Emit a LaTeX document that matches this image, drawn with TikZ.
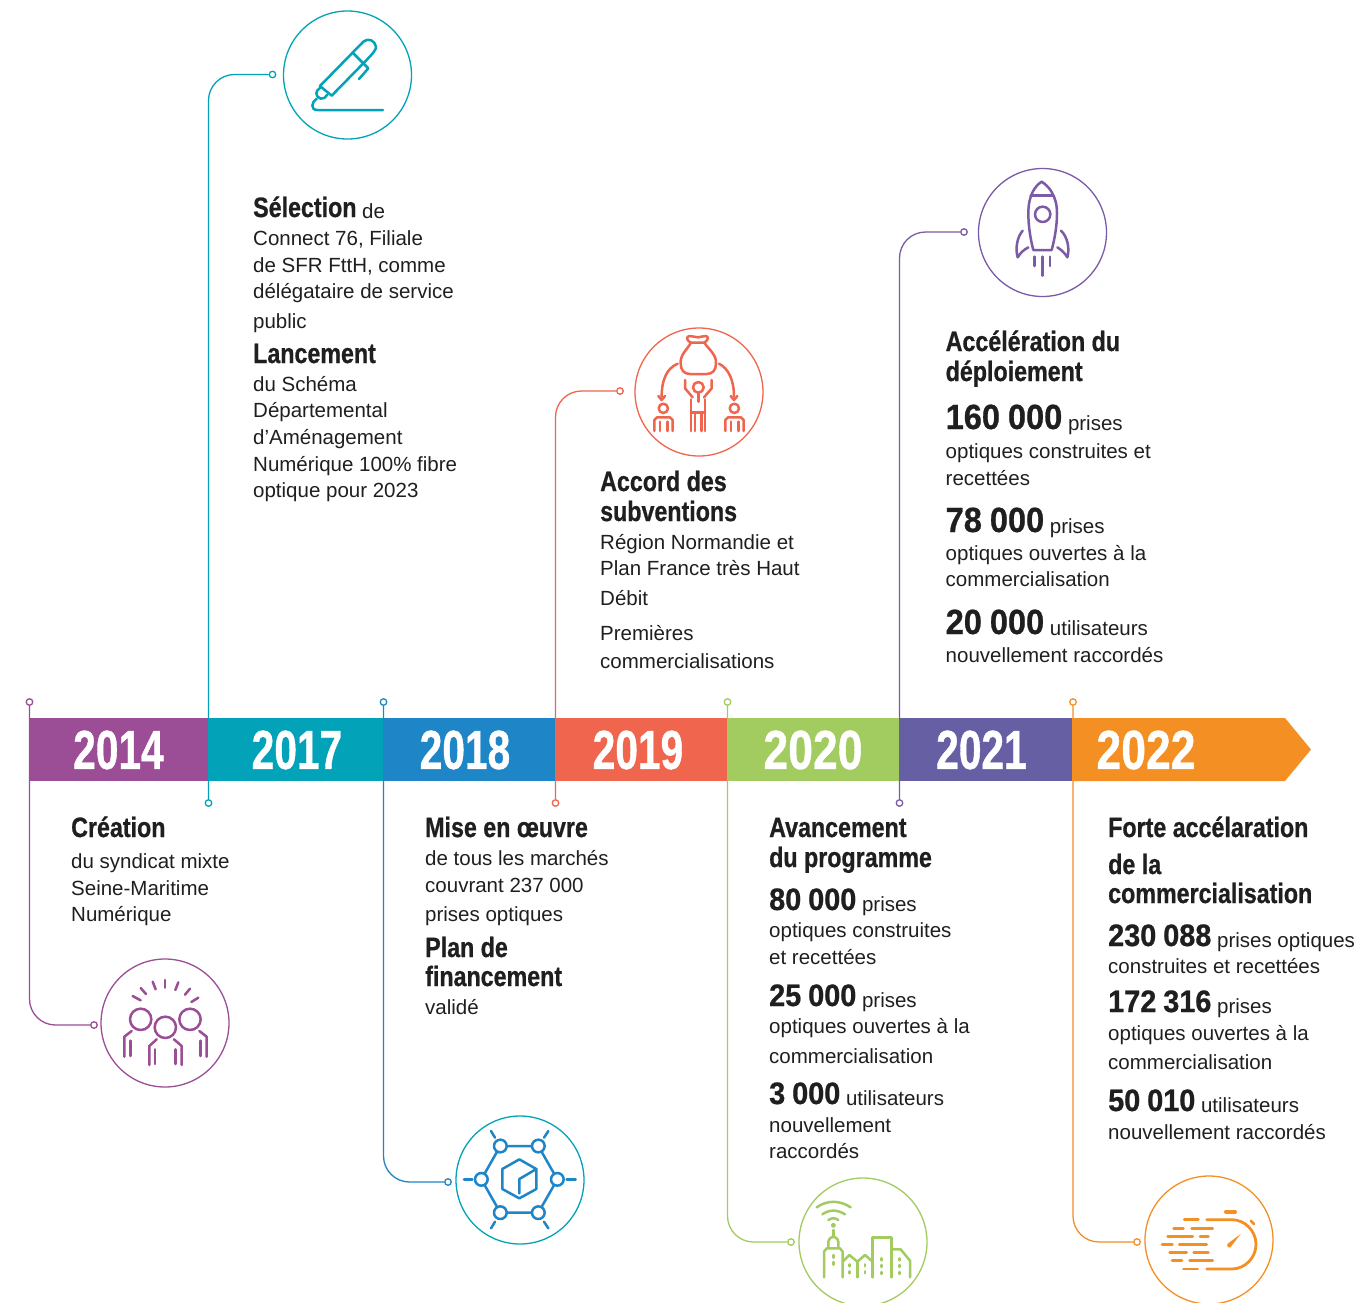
\documentclass[tikz,border=0pt]{standalone}
\usepackage{fontspec}
\setmainfont{Liberation Sans}
\newfontfamily\hdfam[FakeStretch=0.83,FakeBold=0.7]{Liberation Sans Bold}
\newfontfamily\numfam[FakeStretch=0.93,FakeBold=0.7]{Liberation Sans Bold}
\newfontfamily\yrfam[FakeStretch=0.74,FakeBold=0.7]{Liberation Sans Bold}
\newfontfamily\yrwide[FakeStretch=0.81,FakeBold=0.7]{Liberation Sans Bold}
\definecolor{cPurple}{HTML}{9B4D96}
\definecolor{cTeal}{HTML}{02A3B8}
\definecolor{cBlue}{HTML}{1E85C7}
\definecolor{cRed}{HTML}{EF654D}
\definecolor{cGreen}{HTML}{A2CB60}
\definecolor{cViolet}{HTML}{665FA3}
\definecolor{cViolL}{HTML}{7B5AA6}
\definecolor{cOrange}{HTML}{F49023}
\definecolor{cText}{HTML}{1F1F1F}
\tikzset{
  dotnode/.style={circle,draw=#1,fill=white,line width=1.3pt,minimum size=6.5pt,inner sep=0pt},
  ring/.style={circle,draw=#1,line width=1.3pt,minimum size=128pt,inner sep=0pt},
  conn/.style={draw=#1,line width=1.3pt,rounded corners=26pt},
  txt/.style={anchor=base west,inner sep=0pt,text=cText,font=\fontsize{20.5}{24}\selectfont},
  yearlabel/.style={anchor=center,inner sep=0pt,text=white,font=\yrfam\fontsize{55}{60}\selectfont},
  yearwide/.style={anchor=center,inner sep=0pt,text=white,font=\yrwide\fontsize{55}{60}\selectfont},
  icon/.style={draw=#1,line width=2.5pt,line cap=round,line join=round,x=0.33333pt,y=-0.33333pt}
}
\newcommand{\tline}[4]{\node[txt] (#1) at (#2,#3) {#4};}
\newcommand{\headT}[1]{\raisebox{1pt}{\hdfam\fontsize{28}{30}\selectfont #1}}
\newcommand{\numT}[1]{\raisebox{1pt}{\numfam\fontsize{35}{36}\selectfont\spaceskip=8pt #1}}
\newcommand{\numS}[1]{\raisebox{1pt}{\numfam\fontsize{31}{36}\selectfont\spaceskip=7pt #1}}
\begin{document}
\begin{tikzpicture}[x=1pt,y=-1pt]
\useasboundingbox (0,0) rectangle (1354,1302);
\fill[white] (0,0) rectangle (1354,1302);
% dots
\node[dotnode=cPurple] (d14a) at (29.5,702) {};
\node[dotnode=cPurple] (d14b) at (94,1025) {};
\node[dotnode=cTeal] (d17a) at (208.5,803) {};
\node[dotnode=cTeal] (d17b) at (272.5,74.5) {};
\node[dotnode=cBlue] (d18a) at (383.5,702) {};
\node[dotnode=cBlue] (d18b) at (448,1182) {};
\node[dotnode=cRed] (d19a) at (555.5,803) {};
\node[dotnode=cRed] (d19b) at (620,391) {};
\node[dotnode=cGreen] (d20a) at (727.5,702) {};
\node[dotnode=cGreen] (d20b) at (791,1242) {};
\node[dotnode=cViolL] (d21a) at (899.5,803) {};
\node[dotnode=cViolL] (d21b) at (964,232) {};
\node[dotnode=cOrange] (d22a) at (1073,702) {};
\node[dotnode=cOrange] (d22b) at (1137,1242) {};
% connectors
\draw[conn=cPurple] (d14a) -- (d14a |- d14b) -- (d14b);
\draw[conn=cTeal] (d17a) -- (d17a |- d17b) -- (d17b);
\draw[conn=cBlue] (d18a) -- (d18a |- d18b) -- (d18b);
\draw[conn=cRed] (d19a) -- (d19a |- d19b) -- (d19b);
\draw[conn=cGreen] (d20a) -- (d20a |- d20b) -- (d20b);
\draw[conn=cViolL] (d21a) -- (d21a |- d21b) -- (d21b);
\draw[conn=cOrange] (d22a) -- (d22a |- d22b) -- (d22b);
% bar
\fill[cPurple] (29,718) rectangle (208,781);
\fill[cTeal] (208,718) rectangle (383,781);
\fill[cBlue] (383,718) rectangle (555,781);
\fill[cRed] (555,718) rectangle (727,781);
\fill[cGreen] (727,718) rectangle (899,781);
\fill[cViolet] (899,718) rectangle (1072,781);
\fill[cOrange] (1072,718) -- (1285,718) -- (1311,749.5) -- (1285,781) -- (1072,781) -- cycle;
\node[yearlabel] (y14) at (118.5,750) {2014};
\node[yearlabel] (y17) at (297,750) {2017};
\node[yearlabel] (y18) at (465,750) {2018};
\node[yearlabel] (y19) at (638,750) {2019};
\node[yearwide] (y20) at (813,750) {2020};
\node[yearlabel] (y21) at (981.5,750) {2021};
\node[yearwide] (y22) at (1146,750) {2022};
% rings
\node[ring=cPurple] (r14) at (165,1023) {};
\node[ring=cTeal] (r17) at (347.5,75) {};
\node[ring=cTeal] (r18) at (520,1180) {};
\node[ring=cRed] (r19) at (699,392) {};
\node[ring=cGreen] (r20) at (863,1242) {};
\node[ring=cViolL] (r21) at (1042.5,232.5) {};
\node[ring=cOrange] (r22) at (1209,1240) {};
% pen icon
\begin{scope}[shift={(200,0)},icon=cTeal]
\draw (360,258) -- (490,125) .. controls (505,112) and (525,122) .. (528,140) .. controls (528,150) and (522,157) .. (490,190) -- (395,287) -- cycle;
\draw (458,158) -- (505,205) -- (477,237);
\draw (360,264) .. controls (345,272) and (345,290) .. (362,296) .. controls (370,298) and (378,292) .. (382,284);
\draw (350,296) .. controls (335,305) and (330,330) .. (352,330) -- (549,330);
\end{scope}
% bag icon
\begin{scope}[shift={(610,320)},icon=cRed]
\draw (243,68) .. controls (225,58) and (230,48) .. (240,48) .. controls (250,48) and (255,52) .. (264,52) .. controls (272,52) and (280,47) .. (288,48) .. controls (296,50) and (296,60) .. (283,68) -- cycle;
\draw (243,68) .. controls (230,90) and (210,105) .. (212,130) .. controls (212,150) and (222,162) .. (240,162) -- (290,162) .. controls (308,162) and (318,150) .. (318,130) .. controls (320,105) and (298,90) .. (283,68);
\draw (203,131) .. controls (170,145) and (155,180) .. (155,230);
\draw (145,228) -- (155,240) -- (165,228);
\draw (327,131) .. controls (355,145) and (372,180) .. (372,230);
\draw (362,228) -- (372,240) -- (382,228);
\draw (265,202) circle (16);
\draw (225,180) -- (225,205) -- (248,232);
\draw (305,180) -- (305,205) -- (282,232);
\draw (265,220) -- (265,245);
\draw (243,238) -- (243,333);
\draw (285,238) -- (285,333);
\draw (243,278) -- (285,278);
\draw (255,278) -- (255,333);
\draw (275,278) -- (275,333);
\draw (160,265) circle (14);
\draw (133,333) -- (133,300) -- (141,292) -- (180,292) -- (188,300) -- (188,333);
\draw (150,305) -- (150,333);
\draw (172,305) -- (172,333);
\draw (373,265) circle (14);
\draw (346,333) -- (346,300) -- (354,292) -- (393,292) -- (401,300) -- (401,333);
\draw (363,305) -- (363,333);
\draw (385,305) -- (385,333);
\end{scope}
% rocket icon
\begin{scope}[shift={(960,160)},icon=cViolL]
\draw (245,65) .. controls (225,78) and (205,105) .. (205,160) .. controls (205,200) and (212,240) .. (220,270) -- (275,270) .. controls (283,240) and (291,200) .. (291,160) .. controls (291,105) and (265,78) .. (245,65) -- cycle;
\draw (212,106) -- (280,106);
\draw (248,163) circle (23);
\draw (188,212) .. controls (172,230) and (165,265) .. (173,292) .. controls (180,280) and (190,270) .. (205,262);
\draw (303,212) .. controls (322,230) and (330,265) .. (322,292) .. controls (315,280) and (305,270) .. (292,262);
\draw (223,290) -- (223,318);
\draw (247,290) -- (247,347);
\draw (270,290) -- (270,318);
\end{scope}
% people icon
\begin{scope}[shift={(90,950)},icon=cPurple]
\draw (225,90) -- (225,113);
\draw (188,95) -- (197,118);
\draw (152,114) -- (168,132);
\draw (128,138) -- (152,151);
\draw (265,97) -- (256,120);
\draw (300,116) -- (285,134);
\draw (325,143) -- (304,156);
\draw (152,208) circle (32);
\draw (226,232) circle (32);
\draw (300,208) circle (32);
\draw (125,243) -- (103,260) -- (103,320);
\draw (122,272) -- (122,318);
\draw (328,243) -- (350,260) -- (350,320);
\draw (332,272) -- (332,318);
\draw (200,268) -- (178,288) -- (178,345);
\draw (195,298) -- (195,342);
\draw (252,268) -- (275,288) -- (275,345);
\draw (257,298) -- (257,342);
\end{scope}
% network icon
\begin{scope}[shift={(440,1110)},icon=cBlue]
\draw (181,108) -- (295,108) -- (352,208) -- (295,308) -- (181,308) -- (124,208) -- cycle;
\foreach \p in {(181,108),(295,108),(352,208),(295,308),(181,308),(124,208)} {
  \draw[fill=white] \p circle (19);
}
\draw (165,83) -- (153,63);
\draw (312,83) -- (325,63);
\draw (380,208) -- (407,208);
\draw (312,335) -- (325,355);
\draw (165,335) -- (153,355);
\draw (97,208) -- (72,208);
\draw (238,148) -- (289,177) -- (289,237) -- (238,265) -- (187,237) -- (187,177) -- cycle;
\draw (289,177) -- (238,207) -- (238,250);
\end{scope}
% city icon
\begin{scope}[shift={(780,1170)},icon=cGreen]
\draw (110,112) .. controls (140,90) and (180,90) .. (212,112);
\draw (127,133) .. controls (148,118) and (172,118) .. (195,133);
\draw (145,150) .. controls (155,143) and (165,143) .. (175,150);
\draw (160,166) circle (4);
\draw (160,180) -- (160,198);
\draw (145,232) -- (145,215) .. controls (147,205) and (155,200) .. (160,200) .. controls (165,200) and (173,205) .. (175,215) -- (175,232);
\draw (132,322) -- (132,245) -- (140,235) -- (180,235) -- (188,245) -- (188,322);
\draw (160,255) -- (160,263);
\draw (160,276) -- (160,284);
\draw (188,275) -- (208,255) -- (232,275) -- (255,255) -- (278,275);
\draw (232,275) -- (232,322);
\draw (278,322) -- (278,203) -- (335,203) -- (335,322);
\draw (335,238) -- (362,238) -- (390,272) -- (390,322);
\foreach \xx in {209,255} {
  \draw (\xx,283) -- (\xx,289);
  \draw (\xx,304) -- (\xx,310);
}
\foreach \xx in {305,359} {
  \draw (\xx,265) -- (\xx,271);
  \draw (\xx,285) -- (\xx,291);
  \draw (\xx,306) -- (\xx,312);
}
\end{scope}
% stopwatch icon
\begin{scope}[shift={(1130,1170)},icon=cOrange]
\draw[line width=4pt] (288,125) -- (315,125);
\draw (362,152) -- (372,162);
\draw[line width=2.8pt] (230,149) -- (305,149) .. controls (345,149) and (378,183) .. (378,223) .. controls (378,263) and (345,297) .. (305,297) -- (230,297);
\fill[cOrange] (332,192) -- (302,231) .. controls (296,236) and (288,228) .. (293,221) -- cycle;
\foreach \yy/\aa/\ab in {149/163/205,175/131/160,175/185/248,199/113/188,199/210/235,223/96/127,223/148/230,248/119/170,248/191/235,272/126/156,272/179/248,297/160/203} {
  \draw[line width=2.8pt] (\aa,\yy) -- (\ab,\yy);
}
\end{scope}
% texts 2014
\tline{a1}{71}{838}{\headT{Création}}
\tline{a2}{71}{868}{du syndicat mixte}
\tline{a3}{71}{895}{Seine-Maritime}
\tline{a4}{71}{921}{Numérique}
% texts 2017
\tline{b1}{253}{218}{\headT{Sélection} de}
\tline{b2}{253}{245}{Connect 76, Filiale}
\tline{b3}{253}{272}{de SFR FttH, comme}
\tline{b4}{253}{298}{délégataire de service}
\tline{b5}{253}{328}{public}
\tline{b6}{253}{364}{\headT{Lancement}}
\tline{b7}{253}{391}{du Schéma}
\tline{b8}{253}{417}{Départemental}
\tline{b9}{253}{444}{d’Aménagement}
\tline{b10}{253}{471}{Numérique 100\% fibre}
\tline{b11}{253}{497}{optique pour 2023}
% texts 2018
\tline{c1}{425}{838}{\headT{Mise en œuvre}}
\tline{c2}{425}{865}{de tous les marchés}
\tline{c3}{425}{892}{couvrant 237 000}
\tline{c4}{425}{921}{prises optiques}
\tline{c5}{425}{958}{\headT{Plan de}}
\tline{c6}{425}{987}{\headT{financement}}
\tline{c7}{425}{1014}{validé}
% texts 2019
\tline{e1}{600}{492}{\headT{Accord des}}
\tline{e2}{600}{522}{\headT{subventions}}
\tline{e3}{600}{549}{Région Normandie et}
\tline{e4}{600}{575}{Plan France très Haut}
\tline{e5}{600}{605}{Débit}
\tline{e6}{600}{640}{Premières}
\tline{e7}{600}{668}{commercialisations}
% texts 2020
\tline{f1}{769}{838}{\headT{Avancement}}
\tline{f2}{769}{868}{\headT{du programme}}
\tline{f3}{769}{911}{\numS{80 000} prises}
\tline{f4}{769}{937}{optiques construites}
\tline{f5}{769}{964}{et recettées}
\tline{f6}{769}{1007}{\numS{25 000} prises}
\tline{f7}{769}{1033}{optiques ouvertes à la}
\tline{f8}{769}{1063}{commercialisation}
\tline{f9}{769}{1105}{\numS{3 000} utilisateurs}
\tline{f10}{769}{1132}{nouvellement}
\tline{f11}{769}{1158}{raccordés}
% texts 2021
\tline{g1}{945.5}{352}{\headT{Accélération du}}
\tline{g2}{945.5}{382}{\headT{déploiement}}
\tline{g3}{945.5}{430}{\numT{160 000} prises}
\tline{g4}{945.5}{458}{optiques construites et}
\tline{g5}{945.5}{485}{recettées}
\tline{g6}{945.5}{533}{\numT{78 000} prises}
\tline{g7}{945.5}{560}{optiques ouvertes à la}
\tline{g8}{945.5}{586}{commercialisation}
\tline{g9}{945.5}{635}{\numT{20 000} utilisateurs}
\tline{g10}{945.5}{662}{nouvellement raccordés}
% texts 2022
\tline{h1}{1108}{838}{\headT{Forte accélaration}}
\tline{h2}{1108}{875}{\headT{de la}}
\tline{h3}{1108}{904}{\headT{commercialisation}}
\tline{h4}{1108}{947}{\numS{230 088} prises optiques}
\tline{h5}{1108}{973}{construites et recettées}
\tline{h6}{1108}{1013}{\numS{172 316} prises}
\tline{h7}{1108}{1040}{optiques ouvertes à la}
\tline{h8}{1108}{1069}{commercialisation}
\tline{h9}{1108}{1112}{\numS{50 010} utilisateurs}
\tline{h10}{1108}{1139}{nouvellement raccordés}
\end{tikzpicture}
\end{document}
